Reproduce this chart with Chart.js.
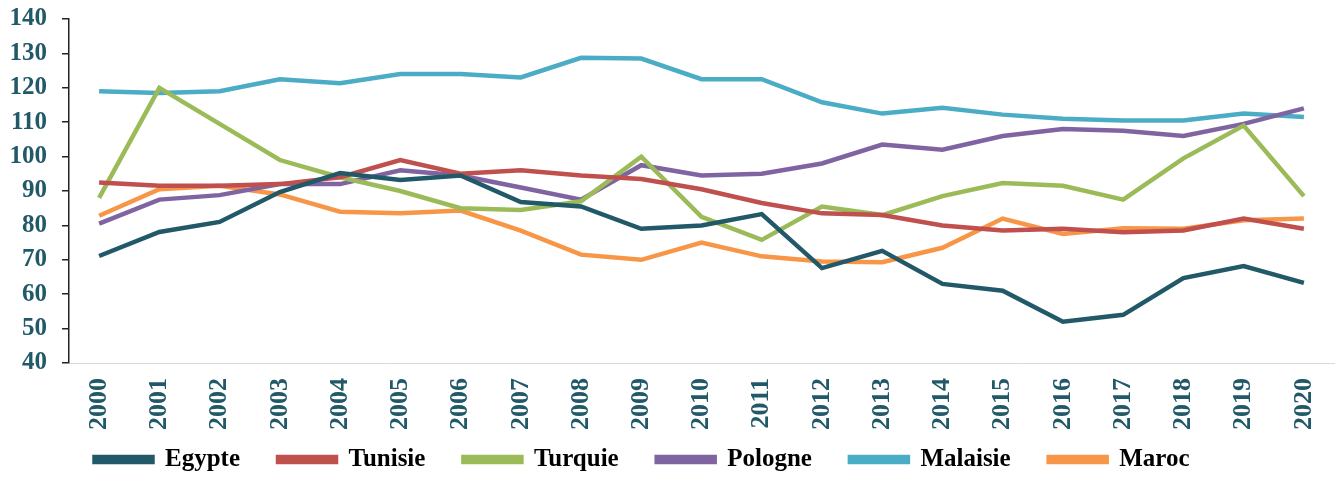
<!DOCTYPE html>
<html><head><meta charset="utf-8">
<script src="https://cdn.jsdelivr.net/npm/chart.js@4"></script>
<style>html,body{margin:0;padding:0;background:#fff}#w{width:1336px;height:477px}</style>
</head><body><div id="w"><canvas id="c" width="1336" height="477"></canvas></div>
<script>
const years = ['2000','2001','2002','2003','2004','2005','2006','2007','2008','2009','2010','2011','2012','2013','2014','2015','2016','2017','2018','2019','2020'];
const egypte   = [71.1,78.1,81,89.7,95.2,93.2,94.5,86.8,85.5,79,80,83.3,67.6,72.6,63,61,52,54,64.7,68.2,63.3];
const tunisie  = [92.5,91.5,91.5,92,94,99,95,96,94.5,93.5,90.5,86.5,83.5,83,80,78.5,79,78,78.5,82,79];
const turquie  = [88,120,109.5,99,94,90,85,84.5,87,100,82.5,75.8,85.5,83,88.5,92.3,91.5,87.5,99.5,109,88.5];
const pologne  = [80.5,87.5,88.8,92,92,96,94.5,91,87.5,97.5,94.5,95,98,103.5,102,106,108,107.5,106,109.5,114];
const malaisie = [119,118.5,119,122.5,121.3,124,124,123,128.7,128.5,122.5,122.5,115.8,112.5,114.2,112.2,111,110.5,110.5,112.5,111.5];
const maroc    = [82.8,90.5,91.5,89,84,83.5,84.3,78.5,71.5,70,75,71,69.5,69.3,73.5,82,77.5,79.2,79,81.5,82];
const yTicks = [40,50,60,70,80,90,100,110,120,130,140];

const serif = '"Liberation Serif","DejaVu Serif",serif';
const teal = '#215968';
function ds(label, data, color){
  return {label, data, borderColor: color, backgroundColor: color, borderWidth: 4.5, pointRadius: 0, tension: 0, fill: false};
}
const legendShift = {
  id: 'legendShift',
  afterLayout(chart) {
    const lg = chart.legend;
    if (lg) { lg.left -= 30; lg.right -= 30; }
  }
};
new Chart(document.getElementById('c'), {
  type: 'line',
  data: {
    labels: years,
    datasets: [
      ds('Egypte', egypte, '#215968'),
      ds('Tunisie', tunisie, '#c0504d'),
      ds('Turquie', turquie, '#9bbb59'),
      ds('Pologne', pologne, '#8064a2'),
      ds('Malaisie', malaisie, '#4bacc6'),
      ds('Maroc', maroc, '#f79646')
    ]
  },
  plugins: [legendShift],
  options: {
    responsive: false,
    animation: false,
    layout: {padding: {left: 10, right: 2, top: 19, bottom: -5}},
    plugins: {
      tooltip: {enabled: false},
      legend: {
        position: 'bottom',
        labels: {
          boxWidth: 58, boxHeight: 5, padding: 38,
          color: '#000',
          font: {family: serif, weight: 'bold', size: 25}
        }
      }
    },
    scales: {
      x: {
        offset: true,
        grid: {display: false, drawTicks: false},
        border: {color: '#d9d9d9', width: 1},
        ticks: {
          minRotation: 90, maxRotation: 90, padding: 15,
          color: teal, font: {family: serif, weight: 'bold', size: 26}
        },
        afterFit: (s) => {
          s.height = 46; s.paddingLeft = 0; s.paddingRight = 0;
          s._computeLabelArea = () => undefined;
        }
      },
      y: {
        min: 40, max: 140,
        afterBuildTicks: (ax) => { ax.ticks = yTicks.map(v => ({value: v})); },
        grid: {drawOnChartArea: false, drawTicks: true, tickLength: 7, color: '#222', lineWidth: 1.5},
        border: {color: '#222', width: 1.5},
        ticks: {
          padding: 15,
          color: teal, font: {family: serif, weight: 'bold', size: 25}
        },
        afterFit: (s) => {
          s.width = 59; s.paddingTop = 0; s.paddingBottom = 0;
        }
      }
    }
  }
});
</script>
</body></html>
